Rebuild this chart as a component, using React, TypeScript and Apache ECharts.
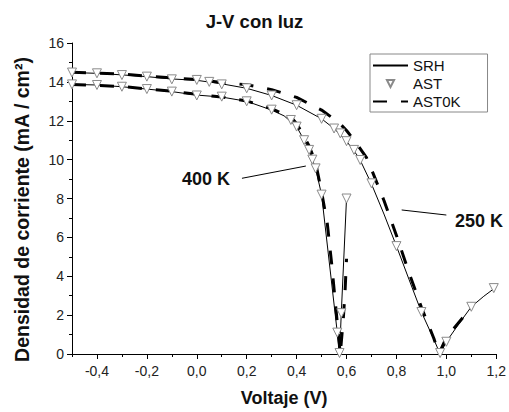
import React, { useEffect, useRef } from 'react';
import * as echarts from 'echarts';

// ---- Data ----
// 250 K curve (upper)
const V_250_SRH = [-0.5, -0.4, -0.3, -0.2, -0.1, 0, 0.1, 0.2, 0.3, 0.4, 0.5, 0.55, 0.6, 0.65, 0.7, 0.75, 0.8, 0.85, 0.9, 0.95, 0.975, 1.0, 1.05, 1.1, 1.15, 1.2];
const J_250_SRH = [14.48, 14.44, 14.36, 14.27, 14.15, 14.08, 13.9, 13.67, 13.3, 12.8, 12.1, 11.6, 10.95, 10.1, 8.75, 7.2, 5.55, 3.85, 2.16, 0.75, 0.0, 0.63, 1.55, 2.43, 2.97, 3.45];

const V_250_AST = [-0.5, -0.4, -0.3, -0.2, -0.1, 0, 0.05, 0.1, 0.2, 0.3, 0.4, 0.5, 0.55, 0.575, 0.6, 0.63, 0.655, 0.7, 0.8, 0.9, 0.975, 1.0, 1.1, 1.19];
const J_250_AST = [14.48, 14.44, 14.35, 14.27, 14.13, 14.1, 14.0, 13.87, 13.67, 13.3, 12.8, 12.1, 11.6, 11.35, 10.95, 10.5, 9.98, 8.78, 5.55, 2.16, 0.05, 0.63, 2.43, 3.39];

const V_250_AST0K = [-0.5, -0.3, -0.1, 0, 0.1, 0.2, 0.3, 0.4, 0.5, 0.57, 0.6, 0.63, 0.65, 0.68, 0.7, 0.75, 0.8, 0.85, 0.9, 0.95, 0.97, 1.0, 1.1];
const J_250_AST0K = [14.5, 14.4, 14.2, 14.12, 13.97, 13.85, 13.6, 13.2, 12.55, 11.9, 11.5, 11.0, 10.65, 10.1, 9.5, 7.9, 6.1, 4.2, 2.4, 0.8, 0.0, 0.85, 2.4];

// 400 K curve (lower)
const V_400_SRH = [-0.5, -0.4, -0.3, -0.2, -0.1, 0, 0.1, 0.2, 0.3, 0.35, 0.4, 0.43, 0.45, 0.463, 0.476, 0.5, 0.563, 0.572, 0.579, 0.6];
const J_400_SRH = [13.87, 13.84, 13.75, 13.63, 13.5, 13.32, 13.22, 13.0, 12.55, 12.25, 11.7, 11.0, 10.5, 10.0, 9.55, 8.2, 1.1, 0.0, 2.1, 8.0];

const V_400_AST = [-0.5, -0.4, -0.3, -0.2, -0.1, 0, 0.1, 0.2, 0.3, 0.377, 0.4, 0.43, 0.45, 0.463, 0.476, 0.5, 0.563, 0.572, 0.579, 0.6];
const J_400_AST = [13.87, 13.84, 13.75, 13.63, 13.5, 13.3, 13.24, 13.0, 12.57, 12.04, 11.7, 11.0, 10.5, 10.0, 9.55, 8.2, 1.1, 0.05, 2.1, 8.0];

const V_400_AST0K = [-0.5, -0.3, -0.1, 0, 0.1, 0.2, 0.3, 0.38, 0.4, 0.43, 0.45, 0.47, 0.48, 0.5, 0.523, 0.54, 0.56, 0.575, 0.587, 0.594, 0.6];
const J_400_AST0K = [13.87, 13.76, 13.52, 13.36, 13.22, 13.02, 12.62, 12.15, 11.85, 11.2, 10.7, 10.05, 9.6, 8.35, 6.7, 4.7, 2.0, 0.0, 1.8, 3.2, 4.9];

// Axis ticks
const X_MAJOR = [-0.4, -0.2, 0, 0.2, 0.4, 0.6, 0.8, 1.0, 1.2];
const X_MINOR = [-0.5, -0.3, -0.1, 0.1, 0.3, 0.5, 0.7, 0.9, 1.1];

// Annotation arrows [from, to] in data coordinates
const ARROW_400 = [[0.437, 9.67], [0.181, 9.04]];
const ARROW_250 = [[0.821, 7.41], [1.0, 7.15]];
const LABEL_400 = '400 K';
const LABEL_250 = '250 K';

const zip = (xs: number[], ys: number[]) => xs.map((x, i) => [x, ys[i]]);

const FONT = '"Liberation Sans", Arial, sans-serif';

export default function App() {
  const ref = useRef<HTMLDivElement>(null);

  useEffect(() => {
    if (!ref.current) return;
    document.body.style.margin = '0';
    const chart = echarts.init(ref.current, null, { renderer: 'svg' });

    const srhStyle = { color: '#000', width: 1 };
    const dashStyle = { color: '#000', width: 3, type: [14, 14] as any };
    const triStyle = { color: '#fff', borderColor: '#8a8a8a', borderWidth: 1 };
    const hiddenSymbol = { color: 'rgba(0,0,0,0)', borderWidth: 0, borderColor: 'rgba(0,0,0,0)' };

    const fmt = (v: number) => (Math.abs(v) < 1e-9 ? '0,0' : v.toFixed(1).replace('.', ','));

    chart.setOption({
      animation: false,
      backgroundColor: '#fff',
      textStyle: { fontFamily: FONT },
      title: {
        text: 'J-V con luz',
        left: 'center',
        top: 7,
        textStyle: { fontSize: 18.5, fontWeight: 'bold', color: '#111', fontFamily: FONT },
      },
      legend: {
        orient: 'vertical',
        left: 370,
        top: 54,
        itemWidth: 35,
        itemHeight: 9,
        itemGap: 3,
        padding: [4, 27, 3, 2],
        borderColor: '#888',
        borderWidth: 1,
        textStyle: { fontSize: 15, color: '#111', fontFamily: FONT },
        data: [
          { name: 'SRH', itemStyle: hiddenSymbol },
          { name: 'AST' },
          { name: 'AST0K', itemStyle: hiddenSymbol },
        ],
      },
      grid: { left: 72, right: 11, top: 43, bottom: 58, containLabel: false },
      xAxis: [
        {
          type: 'value',
          min: -0.5,
          max: 1.2,
          interval: 0.1,
          name: 'Voltaje (V)',
          nameLocation: 'middle',
          nameGap: 35,
          nameTextStyle: { fontSize: 18, fontWeight: 'bold', color: '#111', fontFamily: FONT },
          axisLine: { onZero: false, lineStyle: { color: '#000', width: 1 } },
          axisTick: { length: 5, customValues: X_MAJOR, lineStyle: { color: '#000' } },
          axisLabel: { customValues: X_MAJOR, formatter: fmt, fontSize: 14, color: '#222', margin: 10, fontFamily: FONT },
          splitLine: { show: false },
        },
        {
          type: 'value',
          min: -0.5,
          max: 1.2,
          interval: 0.1,
          position: 'top',
          offset: -311,
          axisLine: { show: false, onZero: false },
          axisTick: { length: 3, inside: true, customValues: X_MINOR, lineStyle: { color: '#000' } },
          axisLabel: { show: false },
          splitLine: { show: false },
        },
      ],
      yAxis: {
        type: 'value',
        min: 0,
        max: 16,
        interval: 2,
        name: 'Densidad de corriente (mA / cm²)',
        nameLocation: 'middle',
        nameGap: 40,
        nameTextStyle: { fontSize: 19.5, fontWeight: 'bold', color: '#111', fontFamily: FONT, padding: [0, 22, 0, 0] },
        axisLine: { show: true, onZero: false, lineStyle: { color: '#000', width: 1 } },
        axisTick: { show: true, length: 5, lineStyle: { color: '#000' } },
        minorTick: { show: true, splitNumber: 2, length: 3, lineStyle: { color: '#000' } },
        axisLabel: { fontSize: 14, color: '#222', margin: 8, fontFamily: FONT },
        splitLine: { show: false },
      },
      series: [
        {
          name: 'SRH',
          type: 'line',
          data: zip(V_250_SRH, J_250_SRH),
          symbol: 'none',
          lineStyle: srhStyle,
          itemStyle: { color: '#000' },
          z: 2,
          markLine: {
            silent: true,
            symbol: ['none', 'arrow'],
            symbolSize: [0, 9],
            lineStyle: { color: '#000', width: 1, type: 'solid' },
            label: { show: false },
            data: [
              [{ coord: ARROW_400[0] }, { coord: ARROW_400[1] }],
              [{ coord: ARROW_250[0] }, { coord: ARROW_250[1] }],
            ],
          },
        },
        { name: 'SRH', type: 'line', data: zip(V_400_SRH, J_400_SRH), symbol: 'none', lineStyle: srhStyle, itemStyle: { color: '#000' }, z: 2 },
        { name: 'AST0K', type: 'line', data: zip(V_250_AST0K, J_250_AST0K), symbol: 'none', lineStyle: dashStyle, itemStyle: { color: '#000' }, z: 3 },
        { name: 'AST0K', type: 'line', data: zip(V_400_AST0K, J_400_AST0K), symbol: 'none', lineStyle: dashStyle, itemStyle: { color: '#000' }, z: 3 },
        {
          name: 'AST', type: 'line', data: zip(V_250_AST, J_250_AST),
          symbol: 'triangle', symbolSize: 9, symbolRotate: 180, showSymbol: true,
          lineStyle: { width: 0, color: '#8a8a8a' }, itemStyle: triStyle, z: 4,
        },
        {
          name: 'AST', type: 'line', data: zip(V_400_AST, J_400_AST),
          symbol: 'triangle', symbolSize: 9, symbolRotate: 180, showSymbol: true,
          lineStyle: { width: 0, color: '#8a8a8a' }, itemStyle: triStyle, z: 4,
        },
      ],
      graphic: [
        {
          type: 'text', x: 206, y: 179,
          style: { text: LABEL_400, font: `bold 18px ${FONT}`, fill: '#111', align: 'center', verticalAlign: 'middle' },
        },
        {
          type: 'text', x: 479, y: 221,
          style: { text: LABEL_250, font: `bold 18px ${FONT}`, fill: '#111', align: 'center', verticalAlign: 'middle' },
        },
      ],
    });

    return () => chart.dispose();
  }, []);

  return <div ref={ref} style={{ width: 509, height: 412, position: 'absolute', left: 0, top: 0 }} />;
}
